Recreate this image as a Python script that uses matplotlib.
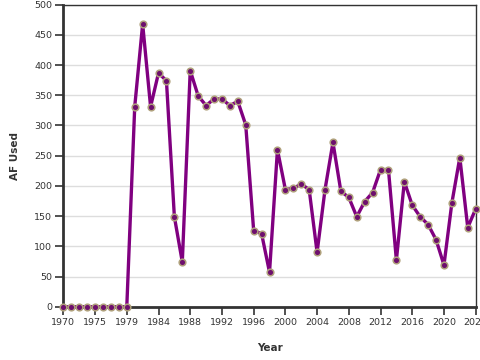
import matplotlib
matplotlib.use("Agg")
import matplotlib.pyplot as plt

years = [1970, 1972, 1973, 1974, 1975, 1976, 1977, 1978, 1979,
         1980, 1981, 1982, 1984, 1985, 1986, 1987, 1988, 1989, 1990,
         1991, 1992, 1993, 1994, 1995, 1996, 1997, 1998, 1999, 2000,
         2001, 2002, 2003, 2004, 2005, 2006, 2007, 2008, 2009, 2010,
         2011, 2012, 2013, 2014, 2015, 2016, 2017, 2018, 2019, 2020,
         2021, 2022, 2023, 2024]
af_used = [0, 0, 0, 0, 0, 0, 0, 0, 0,
           331, 468, 331, 387, 374, 149, 74, 391, 349, 333,
           344, 344, 333, 340, 301, 126, 121, 57, 260, 194,
           196, 203, 194, 90, 194, 272, 191, 181, 149, 174,
           189, 227, 227, 77, 207, 168, 149, 136, 111, 69,
           172, 247, 131, 162]
tick_every = 4

x = list(range(len(years)))

fig = plt.figure(figsize=(4.8, 3.6), dpi=100)
ax = fig.add_axes([0.132, 0.148, 0.859, 0.839])

ax.set_axisbelow(True)
ax.yaxis.grid(True, color="#dddddd", linewidth=1)
ax.plot(x, af_used, color="#800080", linewidth=2.4, zorder=3, clip_on=False,
        marker="o", markersize=4.8, markerfacecolor="#6e0f6e",
        markeredgecolor="#b0a27c", markeredgewidth=1.1)

ax.set_xlim(0, len(years) - 1)
ax.set_ylim(0, 500)
ax.set_yticks(range(0, 501, 50))
ax.set_xticks(x[::tick_every])
ax.set_xticklabels([str(y) for y in years[::tick_every]])

for s in ["left", "bottom"]:
    ax.spines[s].set_color("#333333")
    ax.spines[s].set_linewidth(2)
for s in ["top", "right"]:
    ax.spines[s].set_color("#333333")
    ax.spines[s].set_linewidth(1)

ax.tick_params(axis="both", length=6, width=1.2, color="#333333",
               labelsize=6.8, labelcolor="#333333", pad=2)

ax.set_xlabel("Year", fontsize=7.5, fontweight="bold", color="#333333", labelpad=12)
ax.set_ylabel("AF Used", fontsize=7.5, fontweight="bold", color="#333333", labelpad=10)

fig.savefig("out.png", dpi=100)
